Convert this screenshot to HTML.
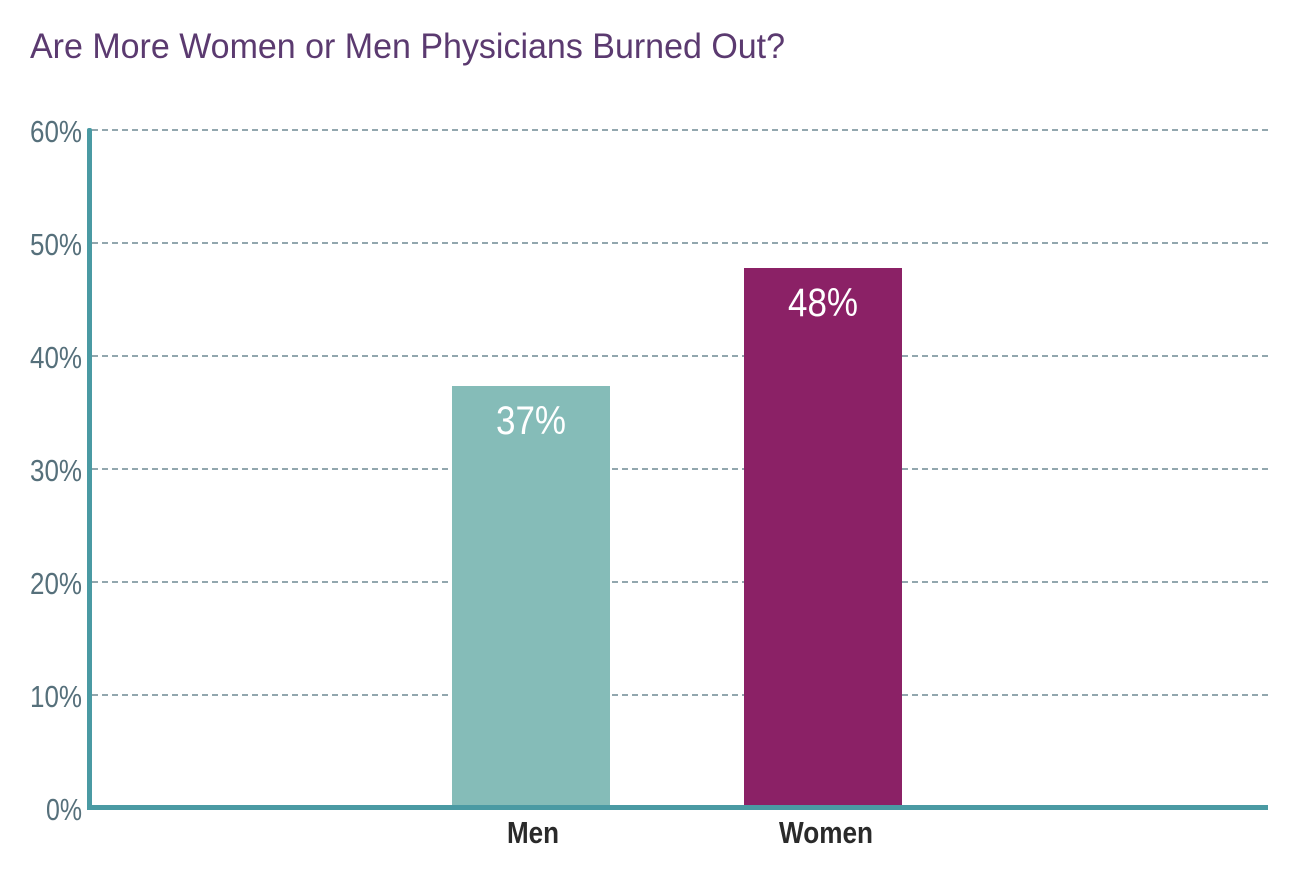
<!DOCTYPE html>
<html><head><meta charset="utf-8"><style>html,body{margin:0;padding:0;background:#fff}svg{display:block}</style></head>
<body>
<svg width="1290" height="878" xmlns="http://www.w3.org/2000/svg" font-family="Liberation Sans, sans-serif">
<text x="30" y="58" font-size="35" fill="#5b3a70" textLength="755" lengthAdjust="spacingAndGlyphs">Are More Women or Men Physicians Burned Out?</text>
<g stroke="#6f8a94" stroke-width="1.5" stroke-dasharray="6,4">
<line x1="92" y1="130" x2="1268" y2="130"/>
<line x1="92" y1="243" x2="1268" y2="243"/>
<line x1="92" y1="356" x2="1268" y2="356"/>
<line x1="92" y1="469" x2="1268" y2="469"/>
<line x1="92" y1="582" x2="1268" y2="582"/>
<line x1="92" y1="695" x2="1268" y2="695"/>
</g>
<g font-size="31" fill="#56707b">
<text x="30" y="142" textLength="52" lengthAdjust="spacingAndGlyphs">60%</text>
<text x="30" y="255" textLength="52" lengthAdjust="spacingAndGlyphs">50%</text>
<text x="30" y="368" textLength="52" lengthAdjust="spacingAndGlyphs">40%</text>
<text x="30" y="481" textLength="52" lengthAdjust="spacingAndGlyphs">30%</text>
<text x="30" y="594" textLength="52" lengthAdjust="spacingAndGlyphs">20%</text>
<text x="30" y="707" textLength="52" lengthAdjust="spacingAndGlyphs">10%</text>
<text x="46" y="820" textLength="36" lengthAdjust="spacingAndGlyphs">0%</text>
</g>
<rect x="452" y="386" width="158" height="421" fill="#85bcb8"/>
<rect x="744" y="268" width="158" height="539" fill="#8b2166"/>
<g font-size="40" fill="#fff" text-anchor="middle">
<text x="531" y="434" textLength="70" lengthAdjust="spacingAndGlyphs">37%</text>
<text x="823" y="316" textLength="70" lengthAdjust="spacingAndGlyphs">48%</text>
</g>
<rect x="87" y="128" width="5" height="682" fill="#4a9aa3" rx="2"/>
<rect x="87" y="805" width="1181" height="5" fill="#4a9aa3"/>
<g font-size="31" font-weight="bold" fill="#2a2a2a" text-anchor="middle">
<text x="533" y="843" textLength="52" lengthAdjust="spacingAndGlyphs">Men</text>
<text x="826" y="843" textLength="94" lengthAdjust="spacingAndGlyphs">Women</text>
</g>
</svg>
</body></html>
